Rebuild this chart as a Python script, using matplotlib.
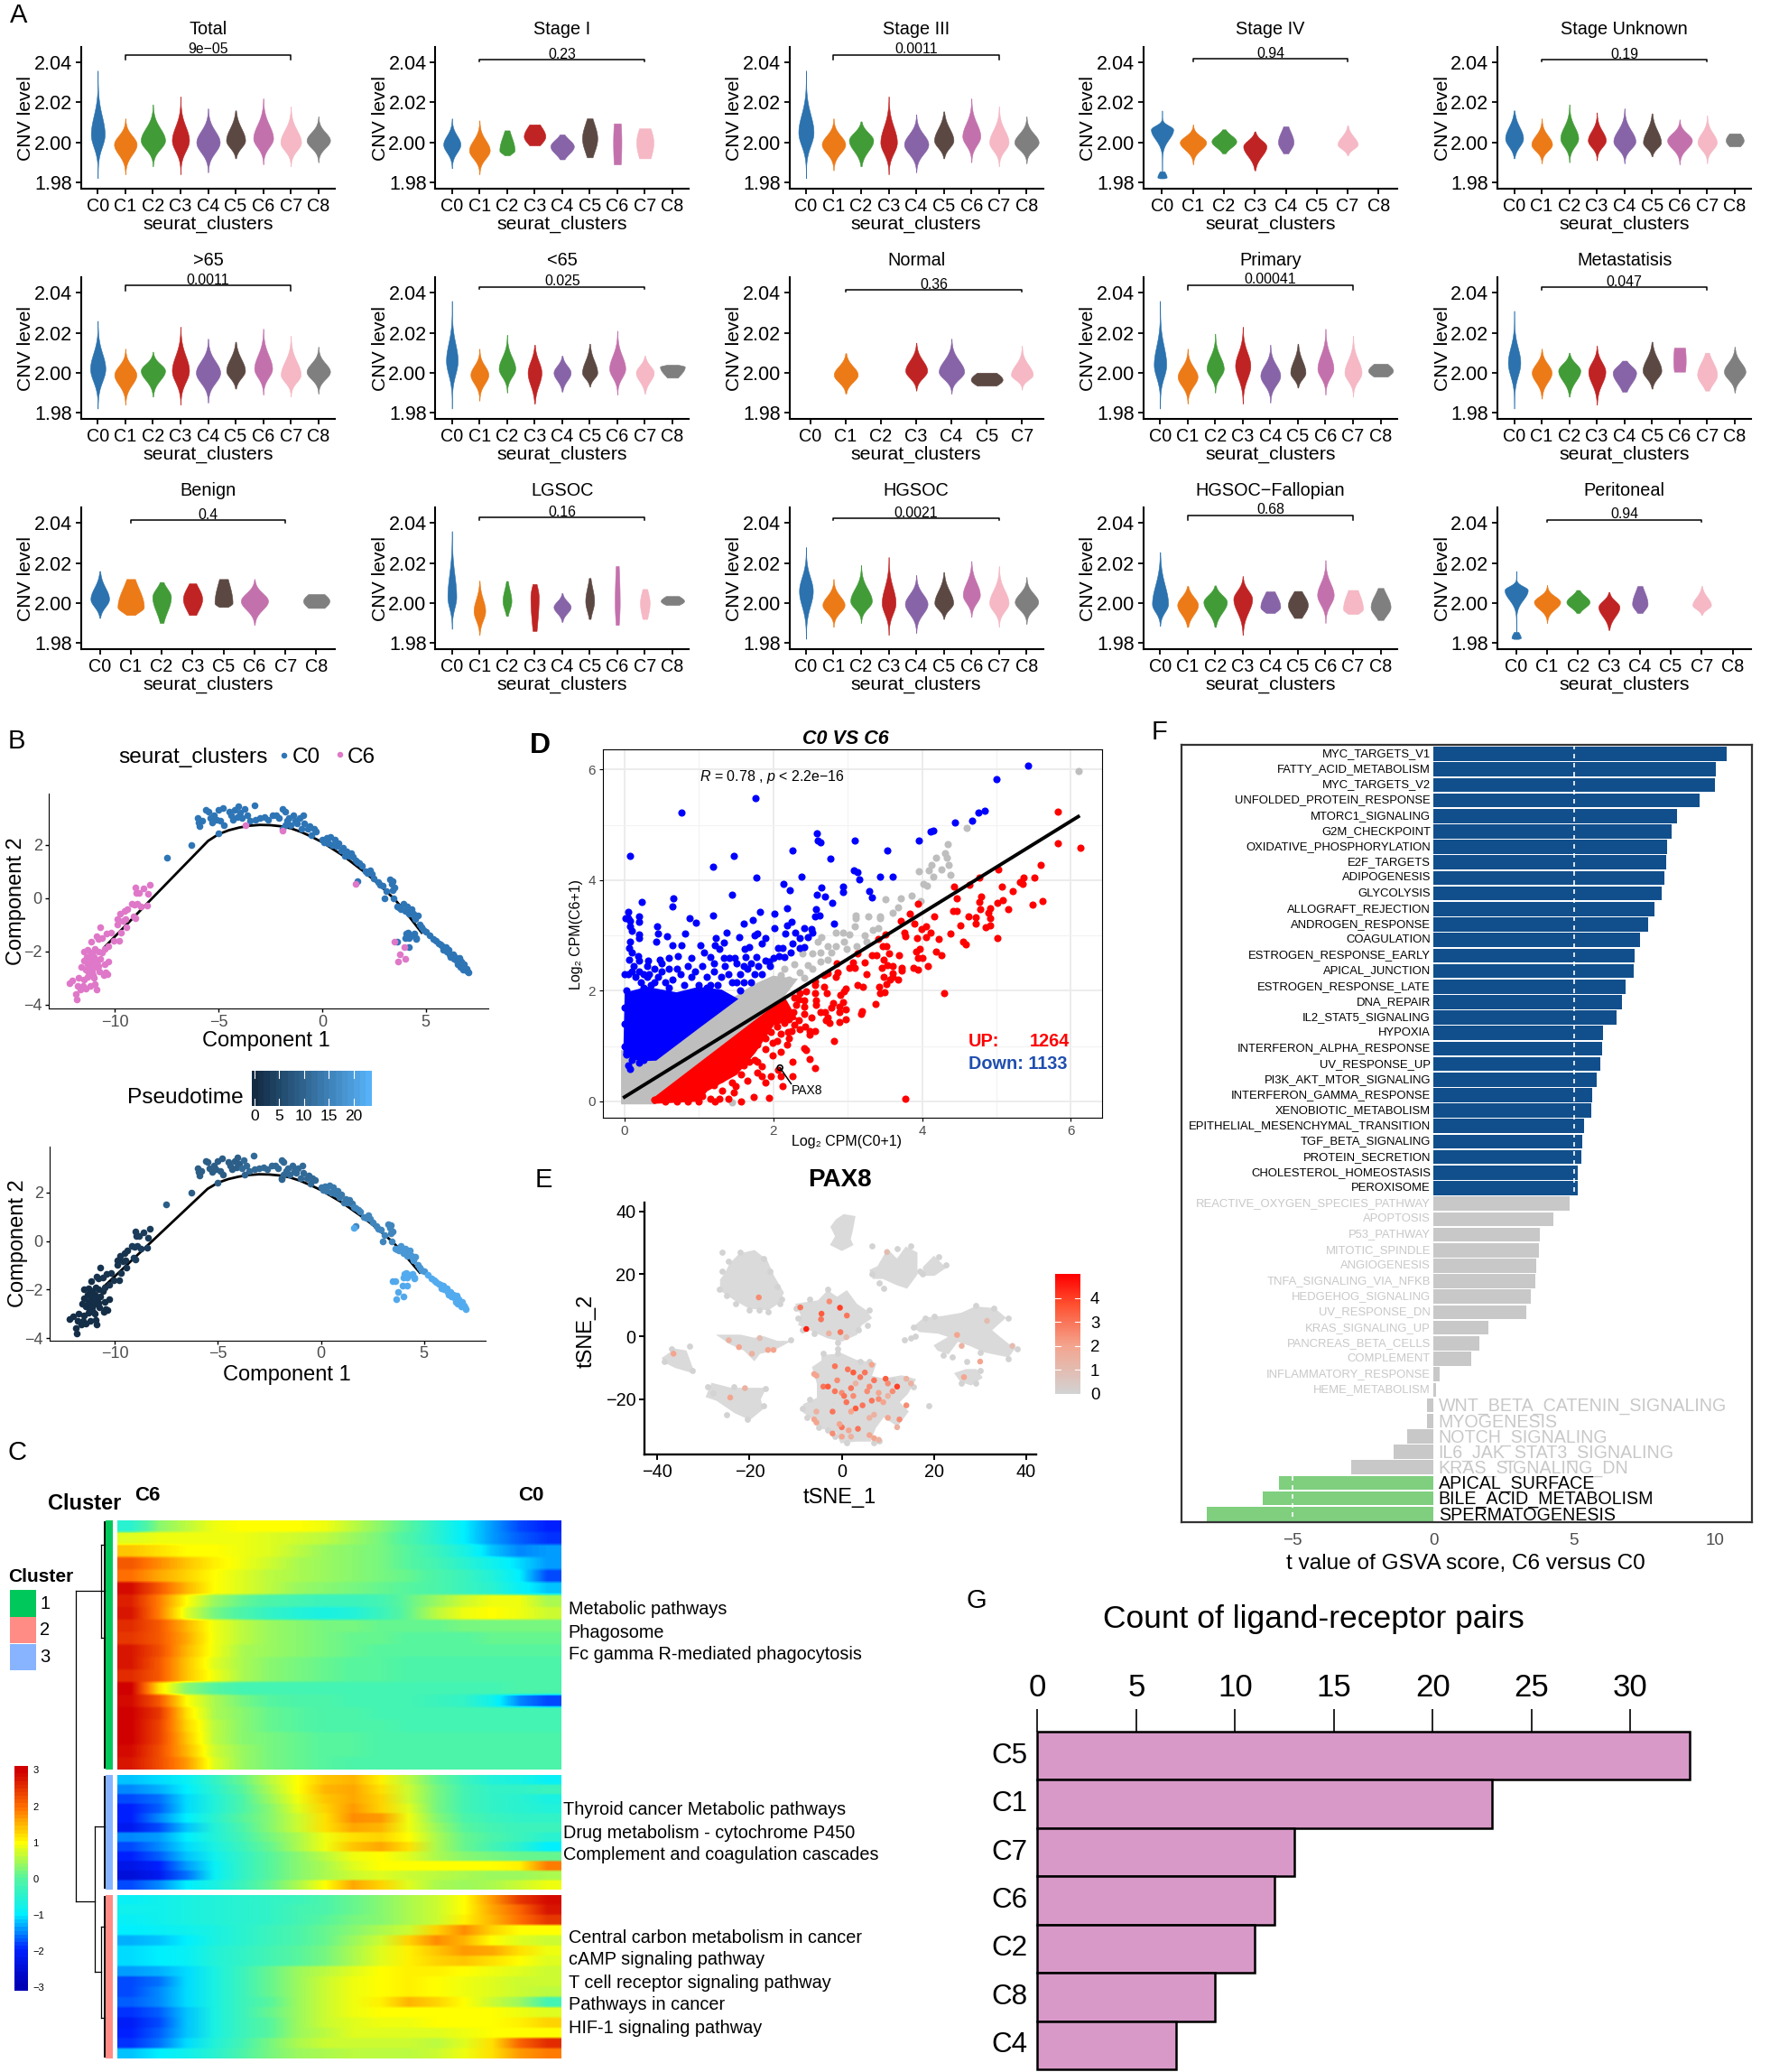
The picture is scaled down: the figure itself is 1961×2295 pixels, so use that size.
import numpy as np
import matplotlib
matplotlib.use('Agg')
from matplotlib import pyplot as plt
from matplotlib.colors import LinearSegmentedColormap

plt.rcParams['font.family'] = ['Liberation Sans', 'DejaVu Sans']
plt.rcParams['mathtext.fontset'] = 'custom'
plt.rcParams['mathtext.rm'] = 'Liberation Sans'
plt.rcParams['mathtext.it'] = 'Liberation Sans:italic'

W, H = 1961, 2295

# ---------- panel A: violin summaries (low, high, mode, width, shape) per cluster
cluster_colors = {'C0': '#2B72AE', 'C1': '#EC7A17', 'C2': '#419B37', 'C3': '#C02323', 'C4': '#8763A7',
                  'C5': '#5C4842', 'C6': '#C371AC', 'C7': '#F5B8C4', 'C8': '#7F7F7F'}
names9 = ['C0', 'C1', 'C2', 'C3', 'C4', 'C5', 'C6', 'C7', 'C8']
names_iv = ['C0', 'C1', 'C2', 'C3', 'C4', 'C5', 'C7', 'C8']
names_normal = ['C0', 'C1', 'C2', 'C3', 'C4', 'C5', 'C7']
names_benign = ['C0', 'C1', 'C2', 'C3', 'C5', 'C6', 'C7', 'C8']

v_total = [(1.982, 2.036, 2.004, .50, 3.5), (1.984, 2.012, 1.999, .82, 3), (1.988, 2.019, 2.001, .88, 3),
           (1.984, 2.023, 2.001, .62, 3.2), (1.985, 2.017, 2.000, .85, 3), (1.992, 2.016, 2.001, .69, 2.5),
           (1.989, 2.022, 2.002, .72, 3), (1.988, 2.018, 2.000, .75, 3), (1.990, 2.013, 2.001, .85, 3)]
v_stage1 = [(1.987, 2.012, 1.999, .62, 3), (1.984, 2.011, 1.996, .75, 3), (1.9935, 2.006, 1.996, .55, 1.5),
            (1.9985, 2.009, 2.003, .78, 1.2), (1.9915, 2.004, 1.998, .85, 1.8), (1.9925, 2.012, 2.002, .55, 1.4),
            (1.989, 2.0095, 2.000, .30, .6), (1.992, 2.007, 2.000, .62, .9), None]
v_stage3 = [(1.982, 2.036, 2.005, .55, 3.5), (1.986, 2.012, 1.999, .85, 3), (1.988, 2.0105, 2.001, .88, 2.5),
            (1.984, 2.023, 2.000, .60, 3), (1.985, 2.014, 1.999, .88, 3), (1.992, 2.0155, 2.001, .70, 2.5),
            (1.990, 2.022, 2.003, .65, 3), (1.988, 2.018, 2.000, .70, 3), (1.9895, 2.013, 2.000, .88, 3)]
v_stage4 = [(1.982, 2.016, 2.0065, .72, 5), (1.989, 2.009, 2.000, .85, 3), (1.9945, 2.0065, 2.0005, .80, 2),
            (1.986, 2.0055, 1.998, .75, 2.5), (1.9945, 2.008, 2.000, .50, 1.5), None,
            (1.9935, 2.0085, 1.999, .65, 2.5), None]
v_unknown = [(1.992, 2.016, 2.002, .65, 2.5), (1.9895, 2.012, 1.999, .75, 3), (1.990, 2.019, 2.002, .65, 3),
             (1.991, 2.015, 2.001, .65, 3), (1.9895, 2.017, 2.0005, .80, 3), (1.993, 2.0145, 2.000, .65, 2.5),
             (1.989, 2.0115, 2.001, .90, 3), (1.9895, 2.0135, 2.000, .70, 3), (1.998, 2.0045, 2.001, .65, 1)]
v_over65 = [(1.982, 2.026, 2.002, .55, 3.2), (1.984, 2.012, 1.999, .80, 3), (1.988, 2.0105, 2.001, .88, 2.8),
            (1.984, 2.023, 2.001, .62, 3), (1.985, 2.017, 2.000, .88, 3), (1.992, 2.0155, 2.001, .68, 2.5),
            (1.989, 2.022, 2.002, .65, 3), (1.988, 2.0185, 1.999, .72, 3), (1.9895, 2.013, 2.0005, .85, 3)]
v_under65 = [(1.982, 2.036, 2.006, .42, 3.5), (1.986, 2.012, 1.999, .65, 3), (1.990, 2.019, 2.002, .60, 3),
             (1.9845, 2.014, 2.000, .50, 2.5), (1.9905, 2.0085, 2.000, .62, 2.5), (1.993, 2.0145, 2.000, .55, 2.5),
             (1.989, 2.021, 2.002, .58, 3), (1.9895, 2.0085, 2.000, .65, 2.5), (1.9975, 2.004, 2.003, .90, 1.3)]
v_normal = [None, (1.9895, 2.0098, 1.999, .68, 2.6), None, (1.991, 2.015, 2.001, .62, 2.8),
            (1.9895, 2.017, 2.0005, .72, 3), (1.9935, 2.000, 1.9965, .90, 1), (1.9915, 2.0135, 1.999, .62, 3)]
v_primary = [(1.982, 2.036, 2.004, .45, 3.5), (1.9845, 2.012, 1.998, .72, 3), (1.990, 2.0195, 2.002, .62, 3),
             (1.9845, 2.023, 2.0035, .55, 3), (1.985, 2.014, 1.9985, .72, 3), (1.9925, 2.0145, 2.000, .55, 2.5),
             (1.989, 2.022, 2.002, .58, 3), (1.988, 2.0185, 2.000, .62, 3), (1.998, 2.0045, 2.001, .90, 1.1)]
v_metast = [(1.982, 2.031, 2.005, .45, 3.5), (1.987, 2.012, 2.000, .72, 2.8), (1.988, 2.010, 2.001, .80, 2.6),
            (1.984, 2.0135, 2.0005, .62, 2.8), (1.9905, 2.006, 2.000, .85, 1.8), (1.992, 2.0155, 2.001, .68, 2.5),
            (2.0005, 2.0125, 2.006, .45, .5), (1.991, 2.010, 1.999, .72, 1.8), (1.990, 2.013, 2.0005, .78, 2.8)]
v_benign = [(1.9925, 2.016, 2.002, .60, 2.5), (1.994, 2.012, 1.998, .85, 1.5), (1.990, 2.0105, 2.003, .60, 1.8),
            (1.994, 2.0098, 2.002, .62, 1.4), (1.998, 2.012, 2.000, .58, 1.2), (1.989, 2.012, 2.001, .88, 2.8),
            None, (1.9975, 2.0045, 2.001, .85, 1)]
v_lgsoc = [(1.987, 2.036, 2.003, .32, 3), (1.984, 2.0112, 1.996, .42, 2.6), (1.9935, 2.011, 2.001, .32, 1.8),
           (1.986, 2.0095, 2.003, .30, 1.2), (1.9905, 2.005, 1.998, .62, 2.5), (1.992, 2.0125, 2.001, .32, 1.8),
           (1.989, 2.0185, 2.000, .18, 1), (1.992, 2.007, 2.000, .35, 1.2), (1.999, 2.0035, 2.001, .85, 1.1)]
v_hgsoc = [(1.982, 2.028, 2.006, .50, 3.2), (1.988, 2.012, 1.999, .80, 3), (1.990, 2.019, 2.001, .78, 3),
           (1.984, 2.023, 2.000, .50, 3), (1.985, 2.014, 1.9995, .82, 3), (1.992, 2.0155, 2.000, .68, 2.6),
           (1.993, 2.021, 2.004, .62, 2.8), (1.988, 2.0185, 2.000, .70, 3), (1.9895, 2.013, 2.0005, .85, 3)]
v_fallop = [(1.9885, 2.0255, 1.9995, .58, 2.8), (1.988, 2.0085, 1.999, .75, 2.4), (1.988, 2.0088, 2.0005, .85, 2.4),
            (1.984, 2.0135, 2.002, .68, 2.8), (1.995, 2.0058, 1.998, .72, 1.3), (1.9925, 2.006, 1.999, .72, 1.4),
            (1.990, 2.0215, 2.004, .60, 3), (1.9945, 2.0065, 1.997, .72, 1.2), (1.9915, 2.0075, 1.998, .72, 1.6)]
v_perit = [(1.9825, 2.016, 2.0065, .75, 5), (1.990, 2.009, 2.0005, .85, 3), (1.995, 2.0065, 2.0005, .75, 2),
           (1.9865, 2.0055, 1.998, .68, 2.5), (1.995, 2.0085, 1.9995, .50, 1.5), None,
           (1.994, 2.0085, 1.999, .60, 2.5), None]
# the small knob at the foot of the C0 violin in the two sparse panels
v_foot = (1.982, 1.9855, 1.9825, .30, 1.2)
foot_panels = [3, 14]

a_titles = ['Total', 'Stage I', 'Stage III', 'Stage IV', 'Stage Unknown', '>65', '<65', 'Normal', 'Primary',
            'Metastatisis', 'Benign', 'LGSOC', 'HGSOC', 'HGSOC\u2212Fallopian', 'Peritoneal']
a_pvals = ['9e\u221205', '0.23', '0.0011', '0.94', '0.19', '0.0011', '0.025', '0.36', '0.00041', '0.047',
           '0.4', '0.16', '0.0021', '0.68', '0.94']
a_bracket = [2.0438, 2.0414, 2.0439, 2.0417, 2.0414, 2.0436, 2.0430, 2.0414, 2.0438, 2.0427,
             2.0414, 2.0427, 2.0424, 2.0439, 2.0417]
a_names = [names9, names9, names9, names_iv, names9, names9, names9, names_normal, names9, names9,
           names_benign, names9, names9, names9, names_iv]
a_violins = [v_total, v_stage1, v_stage3, v_stage4, v_unknown, v_over65, v_under65, v_normal, v_primary, v_metast,
             v_benign, v_lgsoc, v_hgsoc, v_fallop, v_perit]

# ---------- panel B: cells on the trajectory, grouped with their pseudotime
traj_x = [-10.5, -9.5, -8.5, -7.5, -6.5, -5.5, -5.0, -4.5, -4.0, -3.5, -3.0, -2.5, -2.0, -1.5, -1.0, -0.5, 0.0, 0.5, 1.0,
          1.5, 2.0, 2.5, 3.0, 3.5, 4.0, 4.5, 4.8]
traj_y = [-1.85, -1.05, -0.25, 0.55, 1.35, 2.15, 2.4, 2.55, 2.65, 2.72, 2.75, 2.74, 2.7, 2.62, 2.48, 2.3, 2.1, 1.85, 1.6,
          1.3, 1.0, 0.68, 0.32, -0.05, -0.5, -1.0, -1.3]
c6_low = [(-12.2, -3.2), (-12.05, -3.1), (-11.9, -3.6), (-11.85, -3.8), (-11.8, -3.3), (-11.75, -3.0), (-11.65, -3.45),
          (-11.55, -3.3), (-11.5, -3.05), (-11.4, -3.4), (-11.3, -2.95), (-11.2, -3.3), (-11.0, -3.0), (-10.95, -3.25),
          (-10.9, -3.45), (-11.5, -2.35), (-11.4, -2.7), (-11.35, -2.2), (-11.3, -2.5), (-11.3, -1.95), (-11.25, -2.8),
          (-11.2, -2.3), (-11.15, -1.65), (-11.15, -2.6), (-11.1, -2.05), (-11.05, -2.4), (-11.05, -2.9), (-11.0, -2.2),
          (-10.95, -1.9), (-10.9, -2.6), (-10.85, -2.35), (-10.8, -2.0), (-10.75, -2.75), (-10.7, -2.3), (-10.6, -2.05),
          (-10.55, -2.9), (-10.5, -2.5), (-10.45, -2.8), (-10.35, -2.85), (-10.3, -2.4), (-11.6, -2.6), (-11.5, -2.0),
          (-11.2, -2.15), (-11.1, -2.75), (-10.95, -2.45), (-10.8, -2.55)]
c6_mid = [(-10.6, -1.5), (-10.4, -1.35), (-10.9, -1.45), (-10.8, -1.55), (-10.7, -1.1), (-10.5, -1.9), (-10.2, -1.3),
          (-10.3, -1.8), (-10.05, -1.6), (-9.9, -1.0), (-9.8, -1.6), (-9.75, -0.6), (-9.7, -1.3), (-9.6, -0.85),
          (-9.55, -0.5), (-9.5, -0.8), (-9.45, -1.1), (-9.4, -0.4), (-9.9, -0.8)]
c6_up = [(-9.2, -0.2), (-9.05, -0.25), (-9.1, -0.7), (-9.0, -0.75), (-8.9, -0.2), (-9.0, 0.4), (-8.95, 0.2),
         (-8.85, 0.2), (-8.6, 0.35), (-8.75, -0.3), (-8.3, 0.5), (-8.4, 0.15), (-8.45, -0.28)]
c6_right = [(3.5, -1.65), (3.95, -1.85), (3.75, -2.1), (3.65, -2.4), (4.0, -2.3), (1.6, 0.55)]
c6_top = [(-1.9, 2.55), (-3.7, 2.75)]
c0_left = [(-7.5, 1.52), (-6.3, 2.0), (-6.0, 3.0), (-5.95, 2.85), (-5.9, 2.7), (-5.8, 2.9), (-5.6, 3.3), (-5.5, 3.25),
           (-5.4, 3.0), (-5.3, 2.85), (-5.2, 3.1), (-5.1, 2.95), (-5.0, 3.3), (-5.0, 2.42), (-4.9, 2.9), (-4.75, 2.75),
           (-4.8, 3.4), (-4.5, 3.25), (-4.4, 3.1), (-4.3, 2.95), (-4.2, 3.3), (-4.1, 3.05), (-4.05, 3.45), (-3.95, 3.2)]
c0_top = [(-3.85, 3.0), (-3.75, 3.35), (-3.6, 3.1), (-3.5, 2.9), (-3.25, 3.5), (-3.2, 2.95), (-3.0, 3.0), (-2.8, 3.05),
          (-2.6, 2.95), (-2.4, 3.1), (-2.2, 3.1), (-2.1, 3.0), (-1.9, 3.35), (-1.8, 3.25), (-1.7, 2.9), (-1.6, 3.0),
          (-1.5, 2.75), (-1.4, 3.1), (-1.3, 2.9), (-1.2, 2.8), (-1.1, 3.0), (-1.0, 2.6), (-0.9, 3.1), (-0.85, 2.8),
          (-0.7, 2.6), (-0.6, 2.7), (-0.5, 2.35), (-0.4, 2.6), (-0.3, 2.5), (-1.9, 2.6), (-1.8, 2.75)]
c0_down1 = [(0, 2.2), (.1, 2.1), (.2, 2.25), (.3, 2.05), (.4, 2.3), (.5, 2.0), (.6, 2.2), (.7, 1.95), (.8, 2.05),
            (.9, 1.8), (1.0, 1.9), (1.1, 1.6), (1.2, 1.75), (1.3, 1.6), (1.4, 1.7), (1.5, 1.55)]
c0_down2 = [(1.6, 1.4), (1.7, 1.35), (1.8, 1.3), (1.9, 1.2), (2.1, 1.0), (2.2, .95), (2.3, 1.05), (2.4, .9), (2.5, .75),
            (2.7, .6), (2.8, .5), (2.9, .45), (3.0, .0), (3.1, .25), (3.25, .7), (3.35, .55), (3.4, .3), (3.4, .65),
            (3.5, .4), (3.45, .0), (1.7, .62)]
c0_down3 = [(3.6, -.3), (3.7, -.35), (3.8, -.4), (3.9, -.2), (4.0, -.5), (4.1, -.3), (4.15, -.5), (4.2, -.6), (4.3, -.4),
            (4.4, -.6), (4.45, -.7), (4.5, -.8), (4.6, -.65), (4.7, -1.0), (4.8, -1.1), (4.9, -1.2), (5.0, -1.25)]
c0_end = [(5.2, -1.4), (5.35, -1.55), (5.5, -1.6), (5.6, -1.7), (5.7, -1.75), (5.8, -1.8), (5.85, -1.95), (5.95, -1.85),
          (6.0, -2.0), (6.1, -1.95), (6.15, -2.1), (6.2, -2.2), (6.3, -2.1), (6.35, -2.3), (6.4, -2.2), (6.5, -2.35),
          (6.55, -2.5), (6.6, -2.25), (6.65, -2.6), (6.7, -2.4), (6.75, -2.6), (6.8, -2.7), (6.85, -2.5), (6.9, -2.7),
          (6.95, -2.65), (7.05, -2.8), (7.0, -2.75), (3.6, -1.65), (4.0, -1.5), (4.05, -1.35), (4.15, -1.3), (4.2, -1.5),
          (4.3, -1.4), (4.45, -1.35), (4.55, -1.5), (4.2, -1.85), (4.55, -1.55)]
b_c6_groups = [(c6_low, 0.5), (c6_mid, 1.5), (c6_up, 3.0), (c6_right, 22.0), (c6_top, 10.0)]
b_c0_groups = [(c0_left, 9.0), (c0_top, 11.0), (c0_down1, 13.5), (c0_down2, 16.0), (c0_down3, 19.0), (c0_end, 22.5)]

# ---------- panel C: expression along pseudotime, rows by columns
heat_1 = [[-.5, .3, .6, .9, 1, 1, 1, .9, .6, .3, 0, -.5, -1, -1.4, -1.8, -2],
          [.8, .9, .9, .9, .9, .8, .7, .6, .4, .2, -.1, -.5, -1, -1.4, -1.7, -1.9],
          [1.4, 1.2, 1, 1, .9, .8, .6, .4, .3, .2, 0, -.3, -.7, -1.2, -1.5, -1.4],
          [2.2, 1.8, 1.4, 1.1, .9, .7, .5, .4, .3, .2, 0, -.2, -.5, -.8, -1.1, -1.4],
          [2, 1.6, 1.3, 1, .8, .6, .5, .4, .3, .2, .1, -.1, -.3, -.6, -1, -1.8],
          [2.9, 2.2, 1.5, 1, .8, .6, .4, .3, .2, .1, 0, -.1, -.3, -.5, -.9, -1.2],
          [2.7, 1.9, 1, .4, .1, -.1, -.2, -.3, -.3, -.2, .1, .4, .7, .9, .9, .5],
          [2.8, 1.9, .8, .2, -.1, -.4, -.6, -.7, -.6, -.3, .1, .6, .9, 1, .9, .7],
          [2.6, 2.2, 1.5, .9, .6, .4, .3, .2, .2, .1, .1, .1, .2, .2, .2, .2],
          [2.5, 2.2, 1.6, .9, .6, .4, .3, .2, .1, .1, 0, 0, 0, .1, .1, .1],
          [2.8, 2.3, 1.5, .9, .5, .4, .3, .2, .1, 0, 0, 0, 0, 0, 0, 0],
          [2.8, 2.2, 1.4, .8, .5, .3, .2, .1, 0, 0, -.1, -.1, -.1, -.1, -.1, -.1],
          [2.6, 2.2, 1.4, .9, .5, .3, .2, .1, 0, 0, -.1, -.1, -.1, -.1, -.1, -.1],
          [3, 1.2, .3, 0, -.2, -.2, -.2, -.2, -.2, -.2, -.2, -.2, -.2, -.2, -.1, -.1],
          [2.9, 2.2, 1, .5, .2, 0, -.1, -.1, -.2, -.2, -.2, -.3, -.4, -.8, -1.5, -1.8],
          [3, 2.5, 1.2, .5, .3, .1, 0, -.1, -.1, -.2, -.2, -.2, -.2, -.2, -.2, -.2],
          [3, 2.4, 1.3, .6, .3, .1, 0, -.1, -.1, -.1, -.2, -.2, -.2, -.2, -.2, -.2],
          [3, 2.4, 1.4, .6, .3, .2, .1, 0, 0, -.1, -.1, -.1, -.1, -.1, -.1, -.1],
          [2.9, 2.3, 1.5, .7, .4, .2, .1, 0, 0, -.1, -.1, -.1, -.1, -.1, -.1, -.1],
          [2.8, 2.3, 1.7, .8, .4, .2, .1, 0, -.1, -.1, -.1, -.1, -.1, -.1, -.1, -.1]]
heat_3 = [[-1.2, -1.1, -.9, -.4, .1, .6, 1, 1.4, 1.5, 1.1, .6, .1, -.3, -.6, -.7, -.9],
          [-1.5, -1.3, -1, -.5, 0, .5, 1, 1.5, 1.6, 1.2, .7, .2, -.2, -.4, -.4, -.3],
          [-1.8, -1.6, -1.1, -.6, -.1, .4, .9, 1.4, 1.6, 1.3, .7, .2, -.2, -.4, -.5, -.7],
          [-2, -1.7, -1.1, -.6, -.1, .3, .8, 1.3, 1.7, 1.3, .8, .2, -.2, -.4, -.5, -.6],
          [-2, -1.5, -1, -.5, 0, .3, .7, 1.2, 1.8, 1.7, .9, .3, -.1, -.3, -.4, -.4],
          [-2.2, -1.8, -1.2, -.6, -.1, .3, .7, 1.2, 1.6, 1.5, .9, .4, 0, -.2, -.3, -.3],
          [-1.5, -1.4, -1, -.6, -.2, .2, .5, .9, 1.2, 1.3, 1, .5, .1, -.1, -.3, -.5],
          [-1.8, -1.5, -1.1, -.7, -.3, .1, .5, .9, 1.4, 1.6, 1.2, .5, .1, -.2, -.5, -1],
          [-2, -1.7, -1.2, -.8, -.4, 0, .3, .6, .9, 1, .8, .5, .3, .2, .1, .1],
          [-2.3, -2, -1.4, -.9, -.4, 0, .3, .5, .8, 1, 1, 1, 1, 1, 1.1, 1.9],
          [-2.5, -2.2, -1.6, -.9, -.4, 0, .3, .5, .7, .8, .7, .6, .5, .4, .4, .5],
          [-1.8, -1.5, -1, -.7, -.3, .1, .5, 1, 1.6, 1.3, .8, .5, .4, .5, .7, .9]]
heat_2 = [[-.9, -.8, -.7, -.6, -.5, -.4, -.3, -.1, .1, .3, .5, .7, 1, 1.7, 2.5, 2.9],
          [-.8, -.8, -.7, -.6, -.5, -.4, -.2, -.1, .1, .3, .5, .7, 1, 1.6, 2.1, 2.8],
          [-.9, -.8, -.7, -.6, -.5, -.4, -.2, 0, .2, .3, .5, .7, 1.1, 1.5, 2, 2.5],
          [-1, -.9, -.8, -.7, -.5, -.3, -.1, .1, .3, .5, .7, 1.3, 1.8, 1.3, 1, 1],
          [-1.3, -1.2, -1, -.7, -.5, -.3, -.1, .1, .4, .7, 1.3, 1.8, 1.5, 1, .8, .7],
          [-1.1, -1, -.9, -.6, -.4, -.2, 0, .2, .5, .8, 1.1, 1.4, 1.7, 1.6, 1.2, .9],
          [-1.1, -1, -.9, -.6, -.4, -.2, 0, .2, .5, .8, 1.1, 1.3, 1.4, 1.2, 1, .8],
          [-1.4, -1.3, -1.1, -.7, -.3, .1, .4, .6, .8, 1, 1.1, 1.1, 1, .9, .8, .7],
          [-1.8, -1.6, -1.1, -.7, -.3, .1, .4, .7, .9, 1, 1.1, 1, .9, .8, .7, .7],
          [-1.8, -1.5, -1.1, -.7, -.3, .1, .4, .7, .9, 1, 1.1, 1, .9, .8, .7, .6],
          [-1.7, -1.5, -1.1, -.7, -.3, 0, .4, .7, .9, 1.1, 1.5, 1.3, 1, .7, .4, -.2],
          [-1.9, -1.7, -1.2, -.7, -.3, .1, .4, .7, .9, 1, 1, 1, 1, 1, .9, .8],
          [-2.1, -1.8, -1.2, -.7, -.3, 0, .4, .7, .8, .9, .9, 1, 1, 1, 1.1, 1.3],
          [-2, -1.7, -1.2, -.7, -.3, 0, .4, .6, .8, .8, .8, .8, .9, 1, 1, 1],
          [-1.9, -1.6, -1.1, -.6, -.2, .2, .5, .7, .7, .7, .7, .6, .8, 1.2, 2.1, 2.6],
          [-1.2, -1, -.8, -.5, -.1, .2, .4, .5, .6, .6, .6, .7, .9, 1.2, 1.7, 1.9]]
text_1 = ['Metabolic pathways', 'Phagosome', 'Fc gamma R-mediated phagocytosis']
text_3 = ['Thyroid cancer Metabolic pathways', 'Drug metabolism - cytochrome P450', 'Complement and coagulation cascades']
text_2 = ['Central carbon metabolism in cancer', 'cAMP signaling pathway', 'T cell receptor signaling pathway',
          'Pathways in cancer', 'HIF-1 signaling pathway']

# ---------- panel D
line_x = [0.0, 6.1]
line_y = [0.08, 5.15]
blue_mass = [(0, .85), (.02, 1.95), (.3, 2.05), (.7, 1.95), (1.0, 2.05), (1.3, 2.0), (1.5, 1.85), (1.0, 1.35),
             (.42, .76), (.2, .75)]
grey_mass = [(-.03, -.03), (-.03, .9), (.4, .72), (1.4, 1.8), (1.75, 2.1), (2.0, 2.25), (2.3, 2.2), (2.1, 1.85),
             (.4, .03), (.4, -.03)]
red_mass = [(.38, .03), (2.15, 1.85), (2.3, 1.5), (2.0, 1.4), (1.75, .9), (1.5, .5), (1.1, .2), (1.0, .02), (.4, -.02)]
blue_pts = [(5.42, 6.07), (5.0, 5.82), (1.76, 5.48), (.76, 5.23), (4.84, 5.26), (4.76, 5.22), (4.67, 5.07), (4.44, 5.04),
            (4.15, 4.89), (4.11, 4.88), (2.59, 4.85), (3.1, 4.71), (3.96, 4.71), (2.6, 4.71), (2.64, 4.69), (2.26, 4.53),
            (3.53, 4.53), (.08, 4.44), (1.47, 4.44), (2.77, 4.39), (1.19, 4.24), (3.08, 4.18), (3.13, 4.15), (1.77, 4.04),
            (2.38, 4.07), (3.44, 4.07), (3.6, 4.07), (3.15, 4.02), (2.14, 3.93), (2.22, 3.82), (2.65, 3.87), (2.94, 3.88),
            (2.94, 3.78), (3.29, 3.81), (3.32, 3.69), (1.45, 3.73), (2.59, 3.73), (2.69, 3.71), (2.79, 3.59), (.66, 3.67),
            (.65, 3.53), (.23, 3.6), (2.18, 3.5), (2.57, 3.48), (2.62, 3.36), (2.56, 3.35), (1.82, 3.42), (2.01, 3.39),
            (1.19, 3.36), (.88, 3.32), (.96, 3.23), (1.73, 3.28), (1.6, 3.21), (2.24, 3.24), (2.19, 3.18), (2.82, 3.21),
            (2.01, 3.13), (2.41, 3.14), (2.51, 3.12), (2.52, 3.06), (.44, 3.16), (.45, 3.04), (.57, 2.99), (.82, 3.03),
            (1.37, 3.05), (1.54, 2.97), (1.23, 2.95), (1.79, 3.03), (1.75, 3.01), (1.9, 2.95), (2.16, 3.04), (2.29, 3.05),
            (2.36, 2.95), (2.47, 2.97), (.42, 2.89), (.64, 2.83), (.76, 2.83), (1.02, 2.82), (1.21, 2.83), (1.33, 2.87),
            (1.85, 2.86), (2.26, 2.86), (2.41, 2.79), (2.35, 2.78), (2.06, 2.77), (2.12, 2.77), (1.68, 2.79), (1.62, 2.75),
            (1.28, 2.75), (1.07, 2.7), (1.15, 2.61), (.72, 2.62), (.48, 2.57), (.32, 2.55), (.6, 2.6), (.18, 2.63),
            (.19, 2.55), (.06, 2.57), (1.34, 2.59), (1.41, 2.59), (1.48, 2.6), (1.63, 2.61), (1.77, 2.61), (1.94, 2.53),
            (2.08, 2.62), (2.15, 2.61), (2.23, 2.69), (.05, 3.43), (.05, 3.32), (.01, 3.32), (.08, 3.27), (.07, 3.16),
            (.1, 3.08), (.19, 3.35), (.19, 3.24), (.19, 3.02), (.19, 2.95), (.07, 2.89), (.06, 2.78), (.1, 2.69),
            (.0, 2.3), (.05, 2.3), (.1, 2.35), (.15, 2.25), (.2, 2.35), (.25, 2.3), (.3, 2.25), (.33, 2.3), (.4, 2.15),
            (.45, 2.25), (.5, 2.35), (.55, 2.15), (.65, 2.2), (.75, 2.3), (.8, 2.1), (.9, 2.25), (.95, 2.35), (1.0, 2.1),
            (1.1, 2.25), (1.15, 2.1), (1.25, 2.1), (1.3, 2.25), (1.4, 2.3), (1.45, 2.15), (1.55, 2.3), (1.6, 2.15),
            (1.65, 2.4), (1.75, 2.3), (1.8, 2.45), (1.95, 2.45), (1.55, 2.0), (1.7, 2.15), (.02, .85), (.05, .65),
            (.08, .58), (.1, .75), (.2, .7), (.25, .75), (.0, 1.0), (.0, 1.4), (.0, 1.7), (.02, 2.0), (1.2, 1.95), (1.35, 1.9),
            (.12, 2.45), (.22, 2.15), (.35, 2.1), (.5, 2.5), (.6, 2.05), (.7, 2.4), (.85, 2.45), (.9, 2.6), (1.05, 2.45),
            (1.1, 2.05), (1.2, 2.5), (1.35, 2.45), (1.5, 2.5), (1.6, 2.45), (1.7, 2.5), (1.85, 2.3), (1.9, 2.55), (2.0, 2.6),
            (1.5, 2.15), (1.2, 2.35), (.3, 2.45), (.4, 2.4), (.6, 2.4), (.25, 2.05)]
grey_pts = [(6.1, 5.98), (4.6, 4.95), (4.34, 4.65), (4.31, 4.48), (4.33, 4.4), (4.19, 4.4), (4.13, 4.27), (4.36, 4.27),
            (3.96, 4.16), (4.09, 4.17), (4.26, 4.2), (4.38, 4.1), (4.15, 4.07), (4.02, 3.94), (4.07, 3.9), (3.86, 3.72),
            (3.72, 3.67), (3.51, 3.65), (3.98, 3.63), (3.68, 3.51), (3.61, 3.41), (3.11, 3.37), (3.11, 3.32), (3.28, 3.34),
            (3.43, 3.35), (3.43, 3.31), (3.09, 3.16), (3.41, 3.13), (3.34, 3.1), (3.23, 3.01), (2.84, 3.05), (2.94, 3.05),
            (3.02, 3.02), (2.65, 2.97), (2.6, 2.89), (2.73, 2.8), (2.84, 2.8), (2.95, 2.89), (3.12, 2.81), (3.25, 2.89),
            (2.63, 2.69), (2.52, 2.67), (2.39, 2.67), (2.78, 2.69), (2.99, 2.75), (2.63, 2.53), (2.73, 2.56), (2.47, 2.46),
            (2.28, 2.48), (2.15, 2.4), (2.36, 2.34), (2.1, 2.29), (2.52, 2.4), (2.42, 2.23), (2.21, 2.2), (1.99, 2.2),
            (1.89, 2.12), (1.78, 2.01), (1.94, 2.01), (1.68, 1.85), (1.45, -.01)]
red_pts = [(5.83, 5.24), (5.83, 4.67), (6.13, 4.59), (5.59, 4.28), (5.03, 4.2), (5.37, 4.04), (5.51, 4.04), (5.31, 3.97),
           (5.35, 3.94), (4.77, 4.05), (4.64, 3.91), (4.43, 3.88), (5.07, 3.89), (5.22, 3.81), (4.8, 3.71), (4.47, 3.68),
           (5.62, 3.62), (5.49, 3.55), (5.08, 3.64), (5.01, 3.59), (4.77, 3.6), (4.92, 3.49), (5.16, 3.48), (4.78, 3.47),
           (3.94, 3.57), (3.84, 3.39), (4.42, 3.45), (4.47, 3.45), (4.63, 3.35), (4.72, 3.33), (4.89, 3.41), (4.91, 3.32),
           (4.16, 3.34), (3.71, 3.27), (3.9, 3.21), (4.51, 3.19), (4.72, 3.21), (4.91, 3.18), (4.85, 3.15), (4.05, 3.17),
           (3.99, 3.11), (4.12, 3.06), (3.76, 3.05), (3.78, 2.99), (3.51, 3.02), (3.41, 2.94), (4.38, 3.03), (3.93, 2.96),
           (4.05, 2.97), (4.22, 2.93), (5.01, 2.95), (4.55, 2.89), (4.59, 2.84), (3.47, 2.8), (3.52, 2.81), (3.97, 2.75),
           (3.92, 2.71), (4.19, 2.71), (4.26, 2.65), (3.13, 2.68), (3.32, 2.65), (3.39, 2.64), (3.56, 2.67), (3.69, 2.65),
           (3.94, 2.6), (4.01, 2.6), (3.48, 2.56), (3.07, 2.52), (2.85, 2.49), (3.23, 2.51), (3.53, 2.47), (3.6, 2.45),
           (3.46, 2.42), (3.02, 2.41), (3.1, 2.41), (3.73, 2.42), (3.89, 2.41), (4.08, 2.44), (3.94, 2.38), (3.73, 2.37),
           (2.73, 2.32), (2.86, 2.34), (3.6, 2.31), (2.68, 2.29), (3.25, 2.3), (3.48, 2.26), (2.84, 2.26), (3.6, 2.26),
           (3.68, 2.2), (3.57, 2.2), (3.52, 2.12), (2.56, 2.17), (3.13, 2.11), (3.21, 2.07), (2.56, 2.1), (2.68, 2.08),
           (3.42, 2.07), (3.44, 1.96), (3.49, 1.97), (2.98, 2.04), (2.95, 1.99), (4.3, 1.96), (2.72, 1.96), (2.9, 1.92),
           (2.35, 1.96), (2.44, 1.99), (2.56, 1.96), (2.28, 1.88), (2.57, 1.82), (2.42, 1.82), (2.34, 1.85), (2.94, 1.8),
           (3.38, 1.77), (2.15, 1.74), (2.81, 1.78), (2.57, 1.74), (2.42, 1.71), (2.31, 1.74), (2.78, 1.69), (2.97, 1.66),
           (2.89, 1.71), (2.89, 1.61), (3.19, 1.63), (3.18, 1.58), (2.63, 1.61), (2.69, 1.61), (2.27, 1.62), (2.42, 1.59),
           (2.73, 1.52), (2.51, 1.52), (2.34, 1.47), (2.21, 1.48), (2.1, 1.52), (2.71, 1.47), (2.97, 1.48), (2.89, 1.44),
           (2.76, 1.42), (2.15, 1.42), (2.28, 1.39), (2.43, 1.36), (2.05, 1.36), (2.49, 1.28), (2.56, 1.27), (2.25, 1.28),
           (2.1, 1.22), (1.97, 1.25), (2.49, 1.2), (2.21, 1.14), (2.82, 1.1), (1.99, 1.06), (2.18, 1.03), (2.42, .97),
           (2.1, .9), (2.44, .93), (2.49, .77), (1.99, .84), (2.26, .72), (1.78, .72), (2.56, .6), (1.85, .63), (2.06, .57),
           (1.78, .52), (2.26, .45), (2.1, .46), (1.97, .46), (1.85, .45), (1.65, .38), (1.89, .35), (2.13, .27),
           (1.49, .27), (1.74, .08), (1.94, .07), (1.57, 0), (3.78, .05), (1.4, .05), (1.28, .05), (1.21, 0), (1.31, .19),
           (1.47, .16), (1.57, .49), (1.68, .71), (1.63, .93), (1.78, 1.03), (1.89, 1.14), (.4, .03), (.55, .0), (.7, .0),
           (.85, .0), (1.0, .0), (1.15, .05), (1.05, .1), (1.2, .3), (1.3, .4), (1.4, .55), (1.5, .7), (1.55, .85), (1.7, 1.1),
           (1.8, 1.25), (1.95, 1.5), (1.45, .35), (1.6, .65), (1.75, .75), (1.9, .95), (2.05, 1.1), (2.2, 1.25), (2.35, 1.3)]

# ---------- panel E: outlines of the grey clusters, then single cells
e_blobs = [[(.5, 38.5), (2.5, 38), (2, 34), (1.5, 31), (2, 29.5), (0, 28), (-2, 29.5), (-1, 32), (-2, 35), (-1, 37)],
           [(-25, 20), (-24, 23), (-22, 26), (-19, 27), (-16.5, 24), (-15, 19), (-13, 14), (-14, 11), (-16, 9), (-20, 9.5),
            (-23, 12), (-26, 15), (-26, 18)],
           [(8, 22), (10, 27), (12, 24), (14, 28), (16, 26.5), (16, 20), (14, 16), (12, 17), (9, 19), (7, 19), (6.5, 21)],
           [(18, 22), (20, 25), (22, 22), (20, 20), (18, 20)],
           [(-9.5, 10), (-5, 11), (-3, 14), (-1, 12), (1, 14), (3, 10), (5, 8), (6, 6), (4, 4), (3, 1), (0, -1), (-3, 0),
            (-6, 2), (-9, 4), (-8.5, 7)],
           [(-38.5, -7), (-36, -4.5), (-34, -5), (-33, -9), (-32.5, -11), (-36, -9.5), (-38, -8)],
           [(-26, 0), (-22, 0), (-19, -1), (-17, -.5), (-14, -2), (-12.5, -2), (-15, -4), (-18, -5), (-19, -7), (-21, -4),
            (-24, -2)],
           [(-29, -19), (-28, -15.5), (-24, -17), (-21, -17), (-17, -17), (-18, -20), (-17.5, -23), (-20, -26), (-23, -24),
            (-25, -22), (-27, -20)],
           [(-4, -6.5), (0, -6), (3, -8), (7, -9), (6, -13), (9, -14), (13, -13), (15.5, -14), (14, -18), (12, -21), (14, -24),
            (12, -28), (9, -25), (7, -29), (6, -33), (3, -33), (0, -33.5), (-1, -30), (-4, -29), (-6, -26), (-8, -24), (-8, -22),
            (-5, -20), (-5, -15), (-6, -10), (-4, -8)],
           [(16, 3), (18, 5.5), (22, 6), (26, 7), (29, 9), (33, 8.5), (35, 6), (32, 2), (34, -.5), (37, -4), (36, -6), (31, -4.5),
            (28, -2.5), (25, -1), (23, -5), (21, -4), (20.5, -3), (24, 0), (21, 1.5), (17, 2)],
           [(27, -11), (29, -11), (30, -13), (28, -15), (26, -14), (25, -12)]]
e_grey = [(-26, 27), (-26, 21), (-26.5, 15), (-25, 13), (-13, 12), (-14, 16), (-15.5, 21), (-17, 25), (-20, 8.5), (-18, 8.5),
          (-16, 8), (-23, 10.5), (-13.5, 10.5), (-22, 27), (-24.5, 24),
          (6.5, 29), (6.5, 20), (8, 17), (9, 15.5), (17, 21), (17.5, 20), (22.5, 23), (21, 25.5), (15, 29), (12, 28),
          (-11, -1), (-28, -18), (-29, -16), (-16.5, -16.5), (-23.5, -16), (-20.5, -26.5), (-25, -25), (-17, -22),
          (-37, -4), (-33, -3), (-32.5, -11), (-38.5, -8),
          (-9.5, 6), (-10, 9), (-7, 12), (-3, 15), (6, 8.5), (5.5, 3.5), (3.5, 2), (-1, -4), (-1, -2), (-8.5, 2), (-6, 1),
          (13.5, -1), (15, -.5), (16, 0), (15.5, 3), (18, 6), (20, 6.5), (29, 10), (33, 9), (36, 6), (38, -4), (36, -7),
          (30, -5), (22, -6), (24, -6.5), (27, -8), (26, -15), (29, -15), (30, -11), (18.8, -22.2),
          (-7, -20), (-8.5, -23), (-7.5, -26), (-5, -29), (-3, -30), (-1.5, -32), (-1, -5.5), (-4, -5.5), (6, -8), (4, -8),
          (15.5, -16), (7, -34), (8, -33.5), (1, -34), (11, -14)]
e_hot = [(-9, 9.3, 3), (-2.7, 11.2, 2.5), (-.4, 9.2, 4), (1.1, 6.7, 3), (-4.4, 7.3, 3.5), (-4.5, 5.5, 3), (-7.7, 2.4, 4.5),
         (-.3, 1.4, 3), (-2.8, 1, 1.5), (1, -.2, 1), (-36.5, -5.5, 2), (-24.5, -1.2, 1.5), (-22.3, -3.4, 2), (-19.5, -5.5, 1.5),
         (-16, -4.3, 2), (-14.8, -4.3, 2), (-17.8, -.5, 1), (-18, 12.5, 2.5), (-24.2, -19.5, 2), (-21, -16.5, 1.5), (25, .5, 2),
         (26, -3, 1.5), (30, -8, 2), (26.5, -13, 2), (9.8, 27, 1), (31.5, 5, 1), (37, -3, 1), (-1.5, -9.5, 3), (1.3, -10.5, 3),
         (2.5, -11.5, 3.5), (5, -11.5, 3), (6.5, -9, 2), (-5.5, -12.5, 2), (-4, -16, 3), (-3, -16, 3.5), (-1.5, -17.5, 3),
         (0, -18, 2.5), (2, -16.5, 3), (2.5, -19, 2.5), (6, -16, 2.5), (7, -14, 3), (9.5, -13.5, 3.5), (10, -15, 2.5), (12, -16, 4),
         (11, -17.5, 2.5), (15, -15, 1.5), (14, -13.5, 1.5), (.5, -19, 3), (1, -21, 3), (3, -23, 3.5), (6.5, -20.5, 3), (8, -20, 2.5),
         (9, -21, 2), (4.5, -22, 3), (2, -24, 2), (-2, -24, 3), (-6, -26.5, 2), (-5.5, -27.5, 2), (0, -29, 3), (-.5, -28, 2),
         (1.5, -30, 2), (3.5, -29.5, 3), (2, -32, 1.5), (0, -32, 2), (6, -31.5, 2), (7, -32.5, 2), (8, -33, 1.5), (7, -25, 1.5),
         (6, -26, 1.5), (10, -26, 2), (12.5, -26.5, 2.5), (12, -29, 1.5), (14, -22, 2.5), (-6, -12, 2), (8, -18, 2), (10, -19, 1.5),
         (4, -13, 3), (-5.5, -24, 1.5), (-2, -31, 2.5), (3, -15, 1.5), (5.5, -17.5, 2.5), (-1, -14, 2.5)]

# ---------- panel F
f_names = ['MYC_TARGETS_V1', 'FATTY_ACID_METABOLISM', 'MYC_TARGETS_V2', 'UNFOLDED_PROTEIN_RESPONSE', 'MTORC1_SIGNALING',
           'G2M_CHECKPOINT', 'OXIDATIVE_PHOSPHORYLATION', 'E2F_TARGETS', 'ADIPOGENESIS', 'GLYCOLYSIS', 'ALLOGRAFT_REJECTION',
           'ANDROGEN_RESPONSE', 'COAGULATION', 'ESTROGEN_RESPONSE_EARLY', 'APICAL_JUNCTION', 'ESTROGEN_RESPONSE_LATE',
           'DNA_REPAIR', 'IL2_STAT5_SIGNALING', 'HYPOXIA', 'INTERFERON_ALPHA_RESPONSE', 'UV_RESPONSE_UP', 'PI3K_AKT_MTOR_SIGNALING',
           'INTERFERON_GAMMA_RESPONSE', 'XENOBIOTIC_METABOLISM', 'EPITHELIAL_MESENCHYMAL_TRANSITION', 'TGF_BETA_SIGNALING',
           'PROTEIN_SECRETION', 'CHOLESTEROL_HOMEOSTASIS', 'PEROXISOME', 'REACTIVE_OXYGEN_SPECIES_PATHWAY', 'APOPTOSIS',
           'P53_PATHWAY', 'MITOTIC_SPINDLE', 'ANGIOGENESIS', 'TNFA_SIGNALING_VIA_NFKB', 'HEDGEHOG_SIGNALING', 'UV_RESPONSE_DN',
           'KRAS_SIGNALING_UP', 'PANCREAS_BETA_CELLS', 'COMPLEMENT', 'INFLAMMATORY_RESPONSE', 'HEME_METABOLISM',
           'WNT_BETA_CATENIN_SIGNALING', 'MYOGENESIS', 'NOTCH_SIGNALING', 'IL6_JAK_STAT3_SIGNALING', 'KRAS_SIGNALING_DN',
           'APICAL_SURFACE', 'BILE_ACID_METABOLISM', 'SPERMATOGENESIS']
f_values = [10.43, 10.04, 10.0, 9.48, 8.68, 8.48, 8.30, 8.29, 8.23, 8.13, 7.87, 7.64, 7.35, 7.15, 7.11, 6.83, 6.72, 6.50, 6.02,
            6.01, 5.94, 5.82, 5.64, 5.60, 5.36, 5.30, 5.27, 5.13, 5.13, 4.86, 4.28, 3.80, 3.74, 3.66, 3.64, 3.47, 3.29, 1.96,
            1.63, 1.36, 0.22, 0.08, -0.22, -0.23, -0.93, -1.40, -2.91, -5.49, -6.06, -8.07]

# ---------- panel G
g_names = ['C5', 'C1', 'C7', 'C6', 'C2', 'C8', 'C4']
g_counts = [33, 23, 13, 12, 11, 9, 7]

fig = plt.figure(figsize=(W / 100, H / 100), dpi=100)


def px_axes(left, top, right, bottom):
    return fig.add_axes([left / W, 1 - bottom / H, (right - left) / W, (bottom - top) / H])


over = fig.add_axes([0, 0, 1, 1], zorder=20)
over.set_xlim(0, W)
over.set_ylim(H, 0)
over.axis('off')


def put(x, y, s, size, ha='center', va='center', **kw):
    over.text(x, y, s, fontsize=size, ha=ha, va=va, **kw)


def xy(points):
    arr = np.array(points)
    return arr[:, 0], arr[:, 1]


def draw_violin(ax, pos, row, color):
    low, high, mode, wide, k = row
    y = np.linspace(low, high, 80)
    sd = np.where(y >= mode, (high - mode) / k, (mode - low) / k)
    half = wide / 2 * np.exp(-0.5 * ((y - mode) / sd) ** 2)
    ax.fill_betweenx(y, pos - half, pos + half, color=color, lw=0.4)


for n, title in enumerate(a_titles):
    col, row = n % 5, n // 5
    left = 90 + col * 392.3
    bottom = 209 + row * 255.1
    top = bottom - 157
    ax = px_axes(left, top, left + 281, bottom)
    names = a_names[n]
    for i, (name, rowdata) in enumerate(zip(names, a_violins[n])):
        if rowdata is not None:
            draw_violin(ax, i, rowdata, cluster_colors[name])
    if n in foot_panels:
        draw_violin(ax, 0, v_foot, cluster_colors['C0'])
    ax.set_xlim(-0.6, len(names) - 0.4)
    ax.set_ylim(1.9768, 2.0478)
    ax.set_xticks(range(len(names)))
    ax.set_xticklabels(names, fontsize=14.2)
    ax.set_yticks([1.98, 2.0, 2.02, 2.04])
    ax.set_yticklabels(['1.98', '2.00', '2.02', '2.04'], fontsize=15.5)
    ax.tick_params(length=4, width=1.3, pad=3)
    ax.spines[['top', 'right']].set_visible(False)
    ax.spines[['left', 'bottom']].set_linewidth(1.5)
    b1, b2 = names.index('C1'), names.index('C7')
    by = a_bracket[n]
    tip = 0.0025 if by > 2.0432 else 0.001
    ax.plot([b1, b1, b2, b2], [by - tip, by, by, by - tip], color='black', lw=1.1, clip_on=False)
    ax.text((b1 + b2) / 2, by + 0.0027, a_pvals[n], fontsize=11.4, ha='center', va='center', clip_on=False)
    put(left + 140.5, top - 19, title, 14.3)
    put(left + 140.5, bottom + 39, 'seurat_clusters', 15.3)
    put(left - 61, (top + bottom) / 2, 'CNV level', 15.2, rotation=90)

# panel B
ptime_cmap = LinearSegmentedColormap.from_list('ptime', ['#132B43', '#56B1F7'])
ptime_max = 23.6
for left, top, right, bottom, xl, yl, use_time in [(53.7, 879.5, 540.7, 1117, (-13.2, 8.0), (-4.15, 3.91), False),
                                                   (54.8, 1270, 537.8, 1484.5, (-13.18, 7.99), (-4.09, 3.89), True)]:
    ax = px_axes(left, top, right, bottom)
    ax.plot(traj_x, traj_y, color='black', lw=2)
    for groups, base in [(b_c0_groups, '#2E75B6'), (b_c6_groups, '#DF78C8')]:
        for pts, t in groups:
            px, py = xy(pts)
            c = ptime_cmap(t / ptime_max) if use_time else base
            ax.scatter(px, py, s=30, color=c, lw=0, zorder=3)
    ax.set_xlim(*xl)
    ax.set_ylim(*yl)
    ax.set_xticks([-10, -5, 0, 5])
    ax.set_yticks([-4, -2, 0, 2])
    ax.tick_params(labelsize=13, length=3, width=1, labelcolor='#4D4D4D', pad=2)
    ax.spines[['top', 'right']].set_visible(False)
    put((left + right) / 2 + (22 if use_time else -2), bottom + (37 + 1 if use_time else 36), 'Component 1', 17)
    put(18 if not use_time else 20, (top + bottom) / 2, 'Component 2', 17, rotation=90)
put(214, 839, 'seurat_clusters', 17.6)
over.scatter([315, 377], [837, 836], s=22, color=['#2E75B6', '#DF78C8'], lw=0)
put(324, 839, 'C0', 17.6, ha='left')
put(385, 839, 'C6', 17.6, ha='left')
put(205, 1216, 'Pseudotime', 17.6)
ax = px_axes(278.5, 1186, 411.5, 1225)
ax.imshow(np.linspace(-0.6, ptime_max, 20)[None, :], cmap=ptime_cmap, aspect='auto', extent=(-0.6, ptime_max, 0, 1))
ax.set_yticks([])
ax.set_xticks([0, 5, 10, 15, 20])
ax.tick_params(axis='x', labelsize=12.5, length=0, pad=3)
for sp in ax.spines.values():
    sp.set_visible(False)
for t in [0, 5, 10, 15, 20]:
    ax.plot([t, t], [0, 0.2], color='white', lw=0.8)
    ax.plot([t, t], [0.8, 1], color='white', lw=0.8)

# panel C
heat_cmap = LinearSegmentedColormap.from_list('heat', ['#0000B4', '#0020FF', '#00F0FF', '#55F5A0', '#FFFF00', '#FF7000', '#D00000'])
for block, (top, bottom, color) in zip([heat_1, heat_3, heat_2], [(1683.5, 1960, '#00C85A'), (1966, 2093, '#88B4FF'),
                                                                   (2098.5, 2280, '#FF8C85')]):
    ax = px_axes(130, top, 622, bottom)
    # rows repeated so the bands keep their edges under the smoothing
    ax.imshow(np.repeat(np.array(block), 4, axis=0), cmap=heat_cmap, vmin=-3, vmax=3, aspect='auto', interpolation='bilinear')
    ax.axis('off')
    over.fill([116.7, 125, 125, 116.7], [top, top, bottom, bottom], color=color, lw=0)
    over.plot([115.5, 115.5], [top + 2, bottom - 2], color='black', lw=1.4)
dend_x = [[83.5, 83.5], [83.5, 112], [83.5, 105], [105, 105], [105, 116], [105, 112], [112, 112], [112, 116], [112, 112],
          [112, 116], [112, 116], [112, 116], [112, 116]]
dend_y = [[1762, 2106], [1762, 1762], [2106, 2106], [2022.5, 2183.5], [2022.5, 2022.5], [2183.5, 2183.5], [1710.5, 1813.5],
          [1710.5, 1710.5], [2134, 2235], [2134, 2134], [2235, 2235], [1813.5, 1813.5], [1762, 1762]]
for lx, ly in zip(dend_x, dend_y):
    over.plot(lx, ly, color='black', lw=0.9)
put(94, 1666, 'Cluster', 17, fontweight='bold')
put(163, 1657, 'C6', 16, fontweight='bold')
put(588, 1657, 'C0', 16, fontweight='bold')
put(45, 1746.5, 'Cluster', 15, fontweight='bold')
for i, (label, color) in enumerate(zip(['1', '2', '3'], ['#00C85A', '#FF8C85', '#88B4FF'])):
    y0 = 1761 + i * 29.8
    over.fill([11, 39.5, 39.5, 11], [y0, y0, y0 + 29.5, y0 + 29.5], color=color, lw=0)
    put(50, y0 + 15, label, 14.5)
ax = px_axes(16, 1956, 31, 2205)
ax.imshow(np.linspace(3.11, -3.1, 60)[:, None], cmap=heat_cmap, vmin=-3, vmax=3, aspect='auto', extent=(0, 1, -3.1, 3.11))
ax.set_xticks([])
ax.set_yticks([-3, -2, -1, 0, 1, 2, 3])
ax.yaxis.tick_right()
ax.set_yticklabels(['\u22123', '\u22122', '\u22121', '0', '1', '2', '3'], fontsize=8)
ax.tick_params(length=0, pad=4)
for sp in ax.spines.values():
    sp.set_visible(False)
for i, s in enumerate(text_1):
    put(629.5, 1783 + i * 25, s, 14.3, ha='left')
for i, s in enumerate(text_3):
    put(624, 2005 + i * 25, s, 14.3, ha='left')
for i, s in enumerate(text_2):
    put(629.5, 2146 + i * 25, s, 14.3, ha='left')

# panel D
ax = px_axes(668, 829.7, 1221, 1238)
ax.set_xlim(-0.29, 6.42)
ax.set_ylim(-0.294, 6.37)
ax.set_xticks([0, 2, 4, 6])
ax.set_yticks([0, 2, 4, 6])
ax.set_yticks([1, 3, 5], minor=True)
ax.set_xticks([1, 3, 5], minor=True)
ax.grid(True, which='major', color='#EBEBEB', lw=1.3)
ax.grid(True, which='minor', color='#F2F2F2', lw=0.8)
ax.set_axisbelow(True)
ax.tick_params(which='minor', length=0)
ax.tick_params(which='major', labelsize=11, labelcolor='#4D4D4D', length=3, width=0.8, pad=3)
for mass, pts, c in [(grey_mass, grey_pts, '#BEBEBE'), (blue_mass, blue_pts, '#0000FF'), (red_mass, red_pts, '#FF0000')]:
    mx, my = xy(mass)
    ax.fill(mx, my, color=c, lw=2)
    px, py = xy(pts)
    ax.scatter(px, py, s=34, color=c, lw=0, zorder=3)
ax.plot(line_x, line_y, color='black', lw=2.8, zorder=4)
ax.scatter([2.09], [0.61], s=18, facecolor='none', edgecolor='black', lw=1.2, zorder=5)
ax.plot([2.09, 2.24], [0.61, 0.32], color='black', lw=1.1, zorder=5)
ax.text(2.24, 0.2, 'PAX8', fontsize=10, ha='left', va='center', zorder=6)
ax.text(1.01, 5.86, r'$\it{R}$ = 0.78 , $\it{p}$ < 2.2e$-$16', fontsize=11.5, ha='left', va='center')
ax.text(4.62, 1.09, 'UP:', color='#FF0000', fontsize=14.3, fontweight='bold', ha='left', va='center')
ax.text(5.98, 1.09, '1264', color='#FF0000', fontsize=14.3, fontweight='bold', ha='right', va='center')
ax.text(4.62, 0.68, 'Down: 1133', color='#1F4EB0', fontsize=14.3, fontweight='bold', ha='left', va='center')
put(937, 819, 'C0 VS C6', 15.5, fontweight='bold', style='italic')
put(938, 1264, 'Log\u2082 CPM(C0+1)', 11.5)
put(638, 1035, 'Log\u2082 CPM(C6+1)', 11.5, rotation=90)

# panel E
hot_cmap = LinearSegmentedColormap.from_list('hot', [(0, '#D3D3D3'), (0.4, '#F4A58F'), (0.75, '#FF5030'), (1, '#FF0000')])
ax = px_axes(714, 1331.7, 1147.5, 1611)
ax.set_xlim(-42.8, 42.06)
ax.set_ylim(-37.7, 42.9)
for blob in e_blobs:
    bx, by = xy(blob)
    ax.fill(bx, by, color='#DADADA', lw=3)
gx, gy = xy(e_grey)
ax.scatter(gx, gy, s=24, color='#D3D3D3', lw=0)
hot = np.array(e_hot)
ax.scatter(hot[:, 0], hot[:, 1], s=22, c=hot[:, 2], cmap=hot_cmap, vmin=0, vmax=5, lw=0, zorder=3)
ax.set_xticks([-40, -20, 0, 20, 40])
ax.set_yticks([-20, 0, 20, 40])
ax.tick_params(labelsize=14.3, length=4, width=1.4, pad=3)
ax.spines[['top', 'right']].set_visible(False)
ax.spines[['left', 'bottom']].set_linewidth(1.7)
put(930, 1307, 'PAX8', 20, fontweight='bold')
put(930, 1659, 'tSNE_1', 17)
put(650, 1474, 'tSNE_2', 17, rotation=90)
ax = px_axes(1169, 1411, 1197, 1544)
ax.imshow(np.linspace(5, 0, 100)[:, None], cmap=hot_cmap, vmin=0, vmax=5, aspect='auto', extent=(0, 1, 0, 5))
ax.set_xticks([])
ax.set_yticks([0, 1, 2, 3, 4])
ax.yaxis.tick_right()
ax.tick_params(labelsize=13.5, length=0, pad=8)
for sp in ax.spines.values():
    sp.set_visible(False)
for t in [1, 2, 3, 4]:
    ax.plot([0, 0.2], [t, t], color='white', lw=0.8)
    ax.plot([0.8, 1], [t, t], color='white', lw=0.8)

# panel F
ax = px_axes(1309, 824.7, 1941, 1685.7)
ypos = np.arange(len(f_values))
f_colors = ['#114F8C'] * 29 + ['#C8C8C8'] * 18 + ['#7FCF7F'] * 3
ax.barh(ypos, f_values, height=0.91, color=f_colors, lw=0)
ax.vlines([-5, 5], -0.6, 49.52, color='white', lw=1.2, linestyles=(0, (3, 3)))
ax.set_xlim(-8.96, 11.33)
ax.set_ylim(49.52, -0.6)
ax.set_yticks([])
ax.set_xticks([-5, 0, 5, 10])
ax.tick_params(axis='x', labelsize=13.5, labelcolor='#4D4D4D', length=0, pad=9)
for sp in ax.spines.values():
    sp.set_linewidth(1.6)
    sp.set_color('#333333')
for i, (name, value) in enumerate(zip(f_names, f_values)):
    color = '#C8C8C8' if 29 <= i < 47 else 'black'
    if value > 0:
        ax.text(-0.1, i, name, fontsize=9.35, color=color, ha='right', va='center')
    else:
        ax.text(0.18, i + 0.08, name, fontsize=14.1, color=color, ha='left', va='center')
put(1624, 1732, 't value of GSVA score, C6 versus C0', 17.6)

# panel G
ax = px_axes(1149.4, 1918, 1872, 2292)
ax.barh(range(len(g_counts)), g_counts, height=1.0, color='#D899C8', edgecolor='black', lw=1.8, clip_on=False)
ax.set_xlim(0, 33)
ax.set_ylim(6.5, -0.5)
ax.xaxis.tick_top()
ax.set_xticks([0, 5, 10, 15, 20, 25, 30])
ax.set_yticks(range(len(g_names)))
ax.set_yticklabels(g_names, va='center')
ax.tick_params(axis='x', labelsize=25, length=18, width=1.2, pad=5)
ax.tick_params(axis='y', labelsize=22.6, length=0, pad=8)
ax.spines[['right', 'bottom', 'left', 'top']].set_visible(False)
put(1455.6, 1793, 'Count of ligand-receptor pairs', 25.5)

# panel letters
for letter, lx, ly, weight, size in [('A', 21, 17, 'normal', 21), ('B', 18, 821, 'normal', 21), ('C', 19, 1609, 'normal', 21),
                                     ('D', 598, 826, 'bold', 23), ('E', 602, 1307, 'normal', 21), ('F', 1285, 811, 'normal', 21),
                                     ('G', 1082, 1773, 'normal', 21)]:
    put(lx, ly, letter, size, fontweight=weight)

fig.savefig('out.png', dpi=100)
